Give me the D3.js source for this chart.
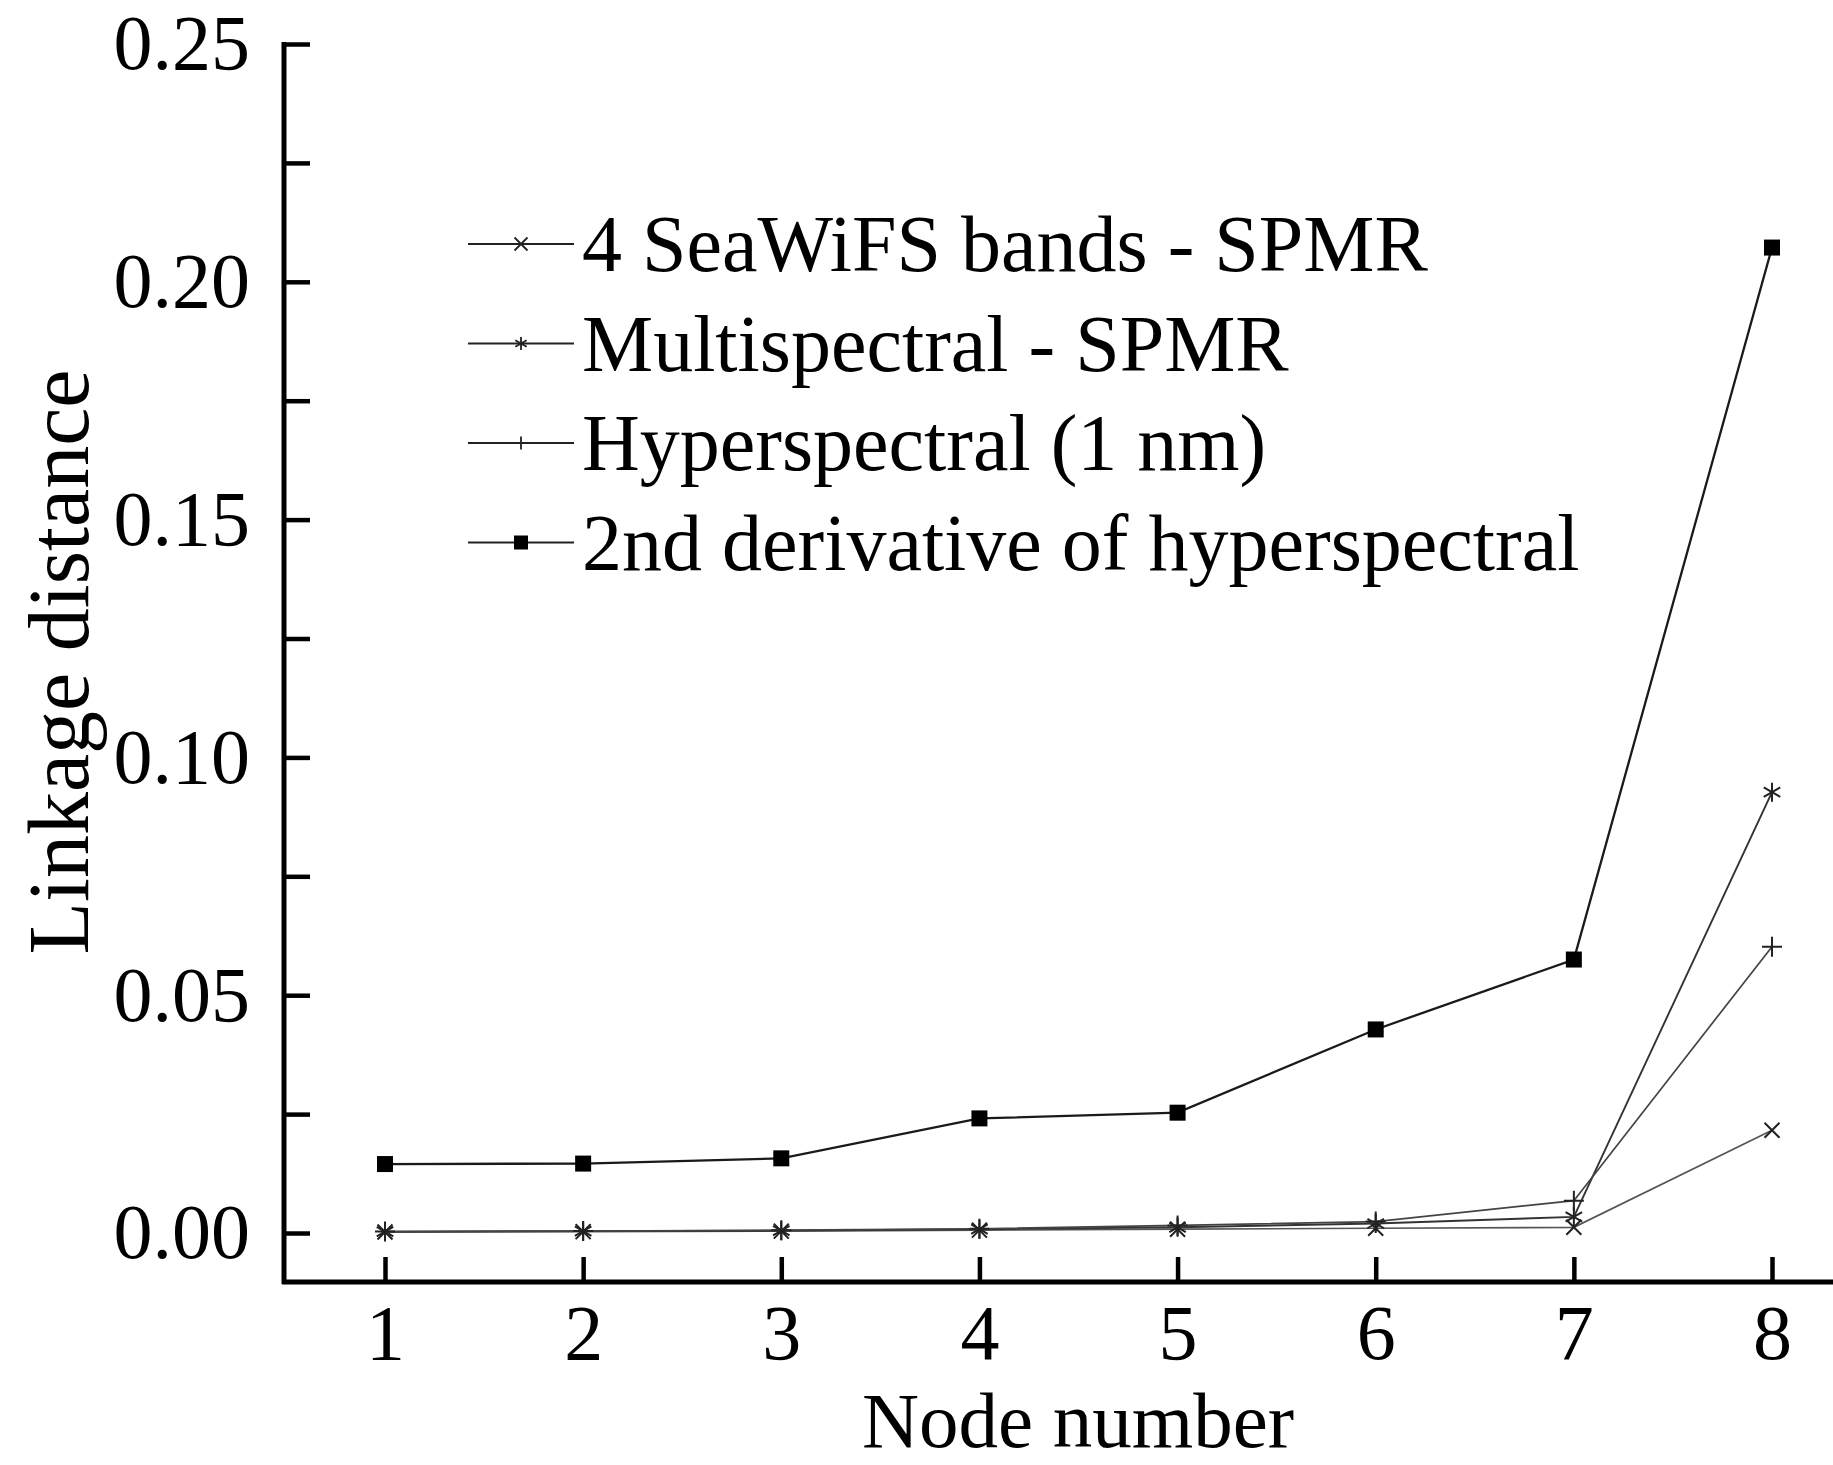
<!DOCTYPE html>
<html>
<head>
<meta charset="utf-8">
<script src="https://cdn.jsdelivr.net/npm/d3@7"></script>
<style>
  html, body { margin: 0; padding: 0; background: #fff; }
  svg { display: block; }
  text { font-family: "Liberation Serif", "DejaVu Serif", serif; fill: #000; }
</style>
</head>
<body>
<svg id="chart" width="1833" height="1465"></svg>
<script>
// Node numbers along the x axis
const nodes = [1, 2, 3, 4, 5, 6, 7, 8];

// Linkage distance per node for each spectral dataset
const seawifs       = [0.0002, 0.0003, 0.0004, 0.0006, 0.0008, 0.0010, 0.0012, 0.0216];
const multispectral = [0.0003, 0.0004, 0.0005, 0.0008, 0.0012, 0.0020, 0.0034, 0.0927];
const hyperspectral = [0.0003, 0.0004, 0.0006, 0.0009, 0.0016, 0.0024, 0.0068, 0.0602];
const derivative2   = [0.0145, 0.0146, 0.0157, 0.0241, 0.0253, 0.0428, 0.0575, 0.2072];

const seriesNames = [
  "4 SeaWiFS bands - SPMR",
  "Multispectral - SPMR",
  "Hyperspectral (1 nm)",
  "2nd derivative of hyperspectral"
];

// Axis ticks
const yTicks = [0, 0.025, 0.05, 0.075, 0.10, 0.125, 0.15, 0.175, 0.20, 0.225, 0.25];
const yTickLabels = ["0.00", "", "0.05", "", "0.10", "", "0.15", "", "0.20", "", "0.25"];
const xTickLabels = ["1", "2", "3", "4", "5", "6", "7", "8"];

const svg = d3.select("#chart");

const x = d3.scaleLinear().domain([1, 8]).range([385, 1772]);
const y = d3.scaleLinear().domain([-0.0103, 0.25]).range([1282, 44]);

// Marker shapes drawn around (0,0)
function markerPath(kind, s) {
  const h = s / 2;
  switch (kind) {
    case "x":
      return `M${-h},${-h}L${h},${h}M${-h},${h}L${h},${-h}`;
    case "plus":
      return `M${-h},0L${h},0M0,${-h}L0,${h}`;
    case "star": {
      const d = h * 0.87, e = h * 0.5;
      return `M0,${-h}L0,${h}M${-d},${-e}L${d},${e}M${-d},${e}L${d},${-e}`;
    }
    case "square":
      return `M${-h},${-h}H${h}V${h}H${-h}Z`;
  }
}

const series = [
  { name: seriesNames[0], values: seawifs,       marker: "x",      size: 15, stroke: "#555", width: 1.7 },
  { name: seriesNames[1], values: multispectral, marker: "star",   size: 19, stroke: "#333", width: 1.9 },
  { name: seriesNames[2], values: hyperspectral, marker: "plus",   size: 20, stroke: "#444", width: 1.7 },
  { name: seriesNames[3], values: derivative2,   marker: "square", size: 16, stroke: "#1a1a1a", width: 2.3 }
];

// Axes (ticks point inward)
const yAxis = d3.axisLeft(y)
  .tickValues(yTicks)
  .tickSize(-26)
  .tickPadding(34)
  .tickFormat((d, i) => yTickLabels[i]);

const gy = svg.append("g").attr("transform", "translate(284,0)").call(yAxis);
gy.select(".domain").remove();
gy.selectAll(".tick line").attr("stroke", "#000").attr("stroke-width", 4.5);
gy.selectAll(".tick text").attr("font-size", 78).attr("font-family", "Liberation Serif").attr("fill", "#000");

const xAxis = d3.axisBottom(x)
  .tickValues(nodes)
  .tickSize(-25)
  .tickPadding(22)
  .tickFormat((d, i) => xTickLabels[i]);

const gx = svg.append("g").attr("transform", "translate(0,1282)").call(xAxis);
gx.select(".domain").remove();
gx.selectAll(".tick line").attr("stroke", "#000").attr("stroke-width", 4.5);
gx.selectAll(".tick text").attr("font-size", 78).attr("font-family", "Liberation Serif").attr("fill", "#000");

// Axis lines
svg.append("line")
  .attr("x1", 284).attr("x2", 284)
  .attr("y1", y(0.25) - 2).attr("y2", 1284)
  .attr("stroke", "#000").attr("stroke-width", 5);
svg.append("line")
  .attr("x1", 282).attr("x2", 1833)
  .attr("y1", 1282).attr("y2", 1282)
  .attr("stroke", "#000").attr("stroke-width", 5);

// Series lines and markers
const line = d3.line().x((d, i) => x(nodes[i])).y(d => y(d));

series.forEach(s => {
  svg.append("path")
    .datum(s.values)
    .attr("d", line)
    .attr("fill", "none")
    .attr("stroke", s.stroke)
    .attr("stroke-width", s.width);

  svg.append("g").selectAll("path")
    .data(s.values)
    .join("path")
    .attr("transform", (d, i) => `translate(${x(nodes[i])},${y(d)})`)
    .attr("d", markerPath(s.marker, s.size))
    .attr("fill", s.marker === "square" ? "#000" : "none")
    .attr("stroke", s.marker === "square" ? "none" : "#222")
    .attr("stroke-width", 2);
});

// Legend
const legend = svg.append("g");
series.forEach((s, i) => {
  const base = 271 + i * 99.5;
  const ly = base - 27;
  legend.append("line")
    .attr("x1", 468).attr("x2", 574)
    .attr("y1", ly).attr("y2", ly)
    .attr("stroke", "#222").attr("stroke-width", 2);
  legend.append("path")
    .attr("transform", `translate(521,${ly})`)
    .attr("d", markerPath(s.marker, s.marker === "square" ? 14 : 13))
    .attr("fill", s.marker === "square" ? "#000" : "none")
    .attr("stroke", s.marker === "square" ? "none" : "#222")
    .attr("stroke-width", 1.8);
  legend.append("text")
    .attr("x", 582).attr("y", base)
    .attr("font-size", 80)
    .text(s.name);
});

// Axis titles
svg.append("text")
  .attr("transform", "translate(88,662) rotate(-90)")
  .attr("text-anchor", "middle")
  .attr("font-size", 86)
  .text("Linkage distance");

svg.append("text")
  .attr("x", 1078).attr("y", 1447)
  .attr("text-anchor", "middle")
  .attr("font-size", 79)
  .text("Node number");
</script>
</body>
</html>
